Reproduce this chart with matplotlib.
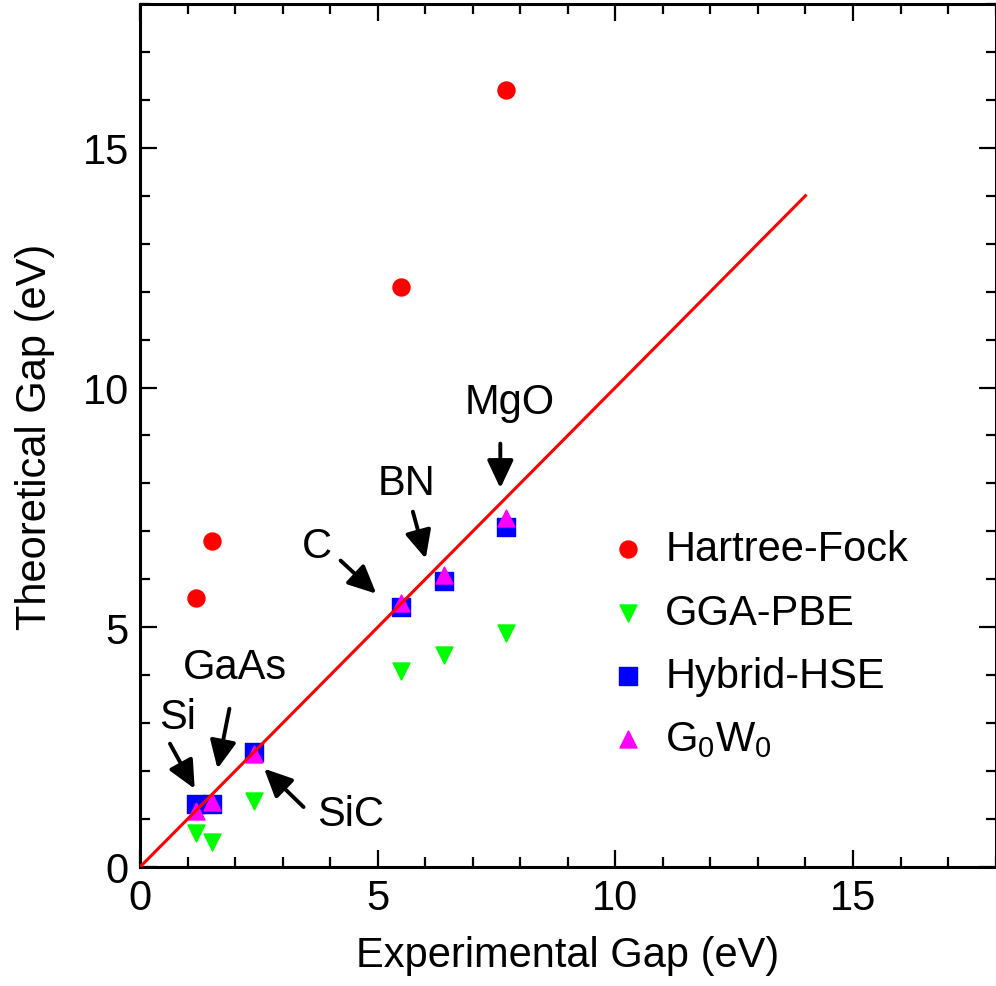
import matplotlib
matplotlib.use("Agg")
import matplotlib.pyplot as plt
from matplotlib.ticker import MultipleLocator

plt.rcParams['font.family'] = ['Liberation Sans', 'DejaVu Sans']

# experimental gaps (eV)
exp_hf = [1.17, 1.52, 5.48, 7.7]
hf = [5.6, 6.8, 12.1, 16.2]

exp_all = [1.17, 1.52, 2.4, 5.48, 6.4, 7.7]
gga = [0.7, 0.52, 1.38, 4.09, 4.42, 4.89]
hse = [1.32, 1.32, 2.4, 5.43, 5.97, 7.1]
gw = [1.17, 1.35, 2.35, 5.5, 6.08, 7.27]

# material labels: (text, text pos, arrow tail, arrow tip)
labels = [
    ("Si", (0.79, 3.13), (0.63, 2.57), (1.15, 1.63)),
    ("GaAs", (2.0, 4.18), (1.88, 3.3), (1.63, 2.05)),
    ("SiC", (4.43, 1.1), (3.44, 1.25), (2.61, 2.05)),
    ("C", (3.72, 6.7), (4.22, 6.39), (4.97, 5.7)),
    ("BN", (5.6, 8.0), (5.74, 7.41), (6.01, 6.43)),
    ("MgO", (7.77, 9.7), (7.58, 8.83), (7.58, 7.9)),
]

fig = plt.figure(figsize=(9.96, 9.87), dpi=100)
ax = fig.add_axes([0.1406, 0.1206, 0.859, 0.8744])

ax.plot([0, 14], [0, 14], color='#ff0000', lw=2.2, zorder=5)

ms = 150
ax.scatter(exp_hf, hf, s=ms, marker='o', color='#ff0000', label='Hartree-Fock', zorder=3)
ax.scatter(exp_all, gga, s=ms, marker='v', color='#00ff00', label='GGA-PBE', zorder=3)
ax.scatter(exp_all, hse, s=ms * 1.15, marker='s', color='#0000ff', label='Hybrid-HSE', zorder=3)
ax.scatter(exp_all, gw, s=ms, marker='^', color='#ff00ff',
           label=r'G$_\mathregular{0}$W$_\mathregular{0}$', zorder=4)

for name, tpos, tail, tip in labels:
    ax.text(tpos[0], tpos[1], name, fontsize=30, ha='center', va='center')
    ax.annotate('', xy=tip, xytext=tail,
                arrowprops=dict(arrowstyle='-|>,head_length=0.85,head_width=0.4',
                                color='black', lw=2.8, mutation_scale=20,
                                shrinkA=0, shrinkB=0))

ax.set_xlim(0, 18)
ax.set_ylim(0, 18)
ax.xaxis.set_major_locator(MultipleLocator(5))
ax.xaxis.set_minor_locator(MultipleLocator(1))
ax.yaxis.set_major_locator(MultipleLocator(5))
ax.yaxis.set_minor_locator(MultipleLocator(1))
ax.tick_params(which='both', direction='in', top=True, right=True, width=1.6,
               labelsize=30, pad=8)
ax.tick_params(which='major', length=12)
ax.tick_params(which='minor', length=7)
for sp in ax.spines.values():
    sp.set_linewidth(2.2)

ax.set_xlabel('Experimental Gap (eV)', fontsize=30, labelpad=12)
ax.set_ylabel('Theoretical Gap (eV)', fontsize=30, labelpad=20)

ax.legend(loc='center left', bbox_to_anchor=(0.502, 0.258), frameon=False,
          fontsize=30, handletextpad=0.4, labelspacing=0.56, markerscale=1.0,
          handlelength=1.0)

fig.savefig('out.png', dpi=100)
